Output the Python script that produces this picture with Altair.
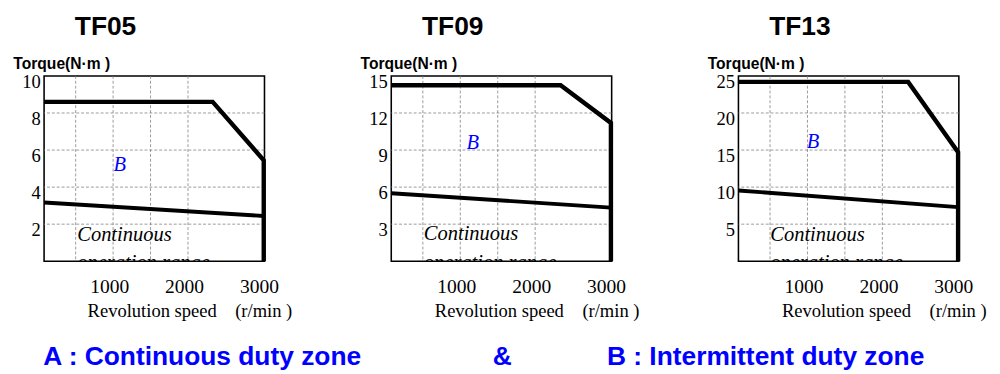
import altair as alt
import pandas as pd

# ---------------- data ----------------
models = ["TF05", "TF09", "TF13"]
y_max = [10, 15, 25]
y_ticks = [[2, 4, 6, 8, 10], [3, 6, 9, 12, 15], [5, 10, 15, 20, 25]]
y_grid = [[2, 4, 6, 8], [3, 6, 9, 12], [5, 10, 15, 20]]
x_ticks = [1000, 2000, 3000]
x_grid = [500, 1000, 1500, 2000]
x_min, x_max = 78, 3022

# intermittent (B) boundary: flat, knee, fall, then vertical drop at max speed
peak_rpm = [[78, 2330, 3012, 3012], [78, 2340, 3012, 3012], [78, 2345, 3012, 3012]]
peak_torque = [[8.6, 8.6, 5.45, 0], [14.25, 14.25, 11.2, 0], [24.2, 24.2, 14.7, 0]]
# continuous (A) boundary
cont_rpm = [78, 3012]
cont_torque = [[3.17, 2.44], [5.5, 4.34], [9.55, 7.3]]

# zone annotations (data coordinates)
b_label = "B"
b_rpm = [1090, 1165, 1075]
b_torque = [5.2, 9.55, 16.1]
a_label_1 = "Continuous"
a_label_2 = "operation range"
a_rpm = [521, 513, 503]
a_torque = [1.42, 2.2, 3.55]

y_title = "Torque(N\u00b7m )"
x_title = "Revolution speed" + "\u00a0" * 4 + "(r/min )"
legend_text = ("A : Continuous duty zone" + "\u00a0" * 18 + "&" + "\u00a0" * 13
               + "B : Intermittent duty zone")

SERIF = "Liberation Serif"
SANS = "Liberation Sans"
W, H = 226, 190
frame = alt.ViewBackground(stroke="black", strokeWidth=1.6, fill="white")


def panel(i):
    xs = alt.Scale(domain=[x_min, x_max], nice=False, zero=False)
    ys = alt.Scale(domain=[0, y_max[i]], nice=False)
    x_axis = alt.Axis(values=x_ticks, format="d", grid=False, ticks=False, domain=False,
                      labelFont=SERIF, labelFontSize=20, labelColor="black",
                      labelBaseline="middle", labelPadding=26, labelOffset=-4,
                      labelFlush=False,
                      title=x_title, titleFont=SERIF, titleFontSize=19,
                      titleFontWeight="normal", titleColor="black",
                      titleAlign="right", titleAnchor="start", titleX=254, titleY=51,
                      titleBaseline="middle")
    y_axis = alt.Axis(values=y_ticks[i], grid=False, ticks=False, domain=False,
                      labelFont=SERIF, labelFontSize=19, labelColor="black",
                      labelPadding=4, labelOffset=6, labelFlush=False,
                      title=y_title, titleFont=SANS, titleFontSize=16,
                      titleFontWeight="bold", titleColor="black", titleAngle=0,
                      titleAlign="left", titleBaseline="middle",
                      titleX=-32, titleY=-13)
    X = alt.X("rpm:Q", scale=xs, axis=x_axis)
    Y = alt.Y("torque:Q", scale=ys, axis=y_axis)

    gx = alt.Chart(pd.DataFrame({"rpm": x_grid})).mark_rule(
        color="#808080", strokeWidth=0.8, strokeDash=[3, 2]
    ).encode(x=X)
    gy = alt.Chart(pd.DataFrame({"torque": y_grid[i]})).mark_rule(
        color="#808080", strokeWidth=0.8, strokeDash=[3, 2]
    ).encode(y=Y)

    peak = pd.DataFrame({"rpm": peak_rpm[i], "torque": peak_torque[i],
                         "o": list(range(len(peak_rpm[i])))})
    cont = pd.DataFrame({"rpm": cont_rpm, "torque": cont_torque[i],
                         "o": list(range(len(cont_rpm)))})
    lp = alt.Chart(peak).mark_line(color="black", strokeWidth=4.5,
                                   strokeJoin="miter", strokeCap="butt").encode(
        x=X, y=Y, order="o:Q")
    lc = alt.Chart(cont).mark_line(color="black", strokeWidth=4,
                                   strokeCap="butt").encode(
        x=X, y=Y, order="o:Q")

    tb = alt.Chart(pd.DataFrame({"rpm": [b_rpm[i]], "torque": [b_torque[i]],
                                 "t": [b_label]})).mark_text(
        font=SERIF, fontSize=21, fontStyle="italic", color="#0000ff",
        baseline="middle").encode(x=X, y=Y, text="t:N")
    ta = alt.Chart(pd.DataFrame({"rpm": [a_rpm[i]], "torque": [a_torque[i]],
                                 "t": [a_label_1]})).mark_text(
        font=SERIF, fontSize=21, fontStyle="italic", color="black",
        align="left", baseline="middle").encode(x=X, y=Y, text="t:N")
    ta2 = alt.Chart(pd.DataFrame({"rpm": [a_rpm[i]], "torque": [0],
                                  "t": [a_label_2]})).mark_text(
        font=SERIF, fontSize=21, fontStyle="italic", color="black",
        align="left", baseline="alphabetic", dy=8, clip=True).encode(
        x=X, y=Y, text="t:N")

    return alt.layer(gx, gy, lp, lc, tb, ta, ta2).properties(
        width=W, height=H, view=frame,
        title=alt.TitleParams(models[i], font=SANS, fontSize=27, fontWeight="bold",
                              color="black", anchor="middle", dx=-50,
                              baseline="top", offset=15),
    )


chart = alt.hconcat(panel(0), panel(1), panel(2), spacing=68).properties(
    title=alt.TitleParams(legend_text, orient="bottom", anchor="start", dx=32,
                          font=SANS, fontSize=27, fontWeight="bold",
                          color="#0000ff", offset=24),
    padding={"left": 4, "top": 0, "right": 5, "bottom": 0},
    background="white",
).configure_view(stroke="black", strokeWidth=1.6)

chart.save("out.html", embed_options={"renderer": "svg", "actions": False})
